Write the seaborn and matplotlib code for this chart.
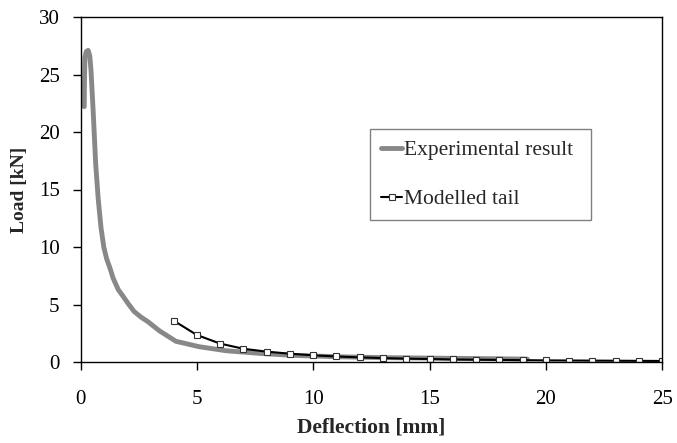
import matplotlib
matplotlib.use("Agg")
import matplotlib.pyplot as plt
import seaborn as sns
import pandas as pd

exp_deflection = [0.16, 0.17, 0.19, 0.25, 0.33, 0.40, 0.45, 0.55, 0.65, 0.76, 0.88, 1.00,
                  1.12, 1.26, 1.40, 1.62, 1.80, 2.04, 2.30, 2.60, 2.90, 3.40, 4.10, 5.10,
                  6.25, 7.70, 9.10, 11.2, 13.0, 15.0, 17.0, 19.2]
exp_load = [22.2, 24.5, 26.5, 27.0, 27.1, 26.6, 25.4, 21.6, 17.3, 14.2, 11.7, 10.0,
            9.0, 8.2, 7.3, 6.3, 5.8, 5.1, 4.4, 3.9, 3.5, 2.7, 1.8, 1.33,
            0.98, 0.75, 0.58, 0.45, 0.38, 0.34, 0.30, 0.25]

# Modelled tail
model_deflection = [4, 5, 6, 7, 8, 9, 10, 11, 12, 13, 14, 15, 16, 17, 18, 19, 20, 21, 22, 23, 24, 25]
model_load = [3.6, 2.35, 1.6, 1.15, 0.9, 0.72, 0.58, 0.48, 0.40, 0.34, 0.29, 0.26,
              0.22, 0.20, 0.18, 0.16, 0.14, 0.13, 0.12, 0.11, 0.10, 0.09]

x_ticks = [0, 5, 10, 15, 20, 25]
y_ticks = [0, 5, 10, 15, 20, 25, 30]

sns.set_style("white")
plt.rcParams['font.family'] = ['Liberation Serif', 'DejaVu Serif']

fig = plt.figure(figsize=(6.77, 4.43), dpi=100)
ax = fig.add_axes([80.5 / 677, 1 - 362 / 443, 581.8 / 677, 345 / 443])

exp_df = pd.DataFrame({"Deflection": exp_deflection, "Load": exp_load})
mod_df = pd.DataFrame({"Deflection": model_deflection, "Load": model_load})

sns.lineplot(data=exp_df, x="Deflection", y="Load", ax=ax, sort=False, estimator=None,
             color="#888888", linewidth=3.5, label="Experimental result")
sns.lineplot(data=mod_df, x="Deflection", y="Load", ax=ax, sort=False, estimator=None,
             color="black", linewidth=1.5, marker="s", markersize=5,
             markerfacecolor="white", markeredgecolor="#333333", markeredgewidth=0.8,
             label="Modelled tail")

ax.set_xlim(0, 25)
ax.set_ylim(0, 30)
ax.set_xticks(x_ticks)
ax.set_yticks(y_ticks)
ax.tick_params(axis='both', direction='out', length=6, width=1, color='black',
               labelsize=15, labelcolor='black')
ax.tick_params(axis='x', pad=14)
ax.tick_params(axis='y', pad=9)
for side in ['left', 'right', 'top', 'bottom']:
    ax.spines[side].set_visible(True)
    ax.spines[side].set_color('black')
    ax.spines[side].set_linewidth(1.0)
ax.tick_params(bottom=True, left=True, top=False, right=False)

ax.set_xlabel("Deflection [mm]", fontsize=15.5, fontweight='bold', labelpad=6)
ax.set_ylabel("Load [kN]", fontsize=14, fontweight='bold', labelpad=8)

leg = ax.legend(loc='upper left', bbox_to_anchor=(0.4976, 0.4165, 0.379, 0.258),
                mode='expand', borderaxespad=0, fontsize=15.5, frameon=True,
                fancybox=False, shadow=False, framealpha=1, edgecolor='#808080',
                handlelength=1.0, handletextpad=0.1, labelspacing=1.35,
                borderpad=0.5, numpoints=1)
leg.get_frame().set_linewidth(1.0)

fig.savefig("out.png", dpi=100)
